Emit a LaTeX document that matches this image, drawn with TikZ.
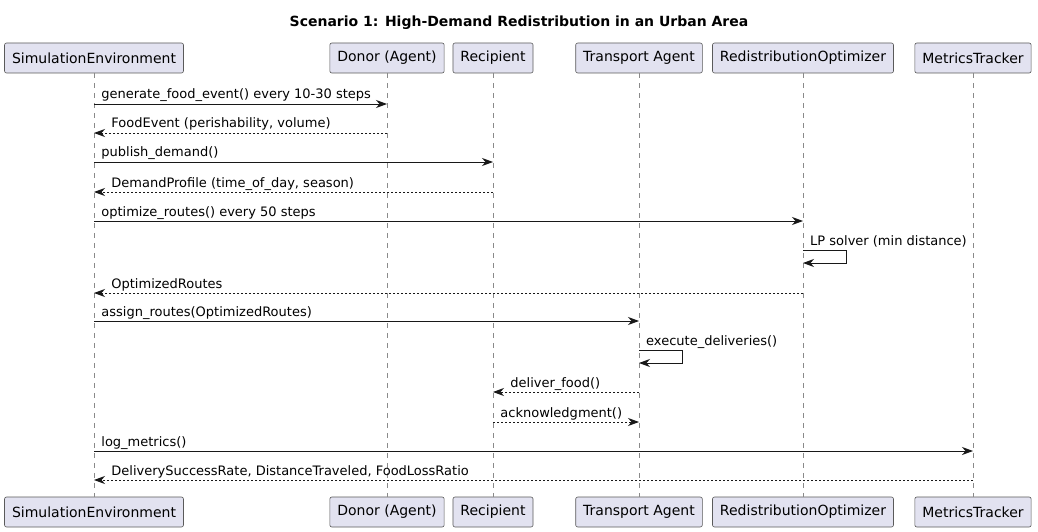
\documentclass[tikz,border=0pt]{standalone}
\usepackage{fontspec}
\setmainfont{DejaVu Sans}
\usetikzlibrary{arrows.meta, positioning, calc}
\definecolor{cbox}{HTML}{E2E2F0}
\definecolor{cline}{HTML}{181818}
\definecolor{cedge}{HTML}{5A5A5A}
\definecolor{cgrey}{HTML}{8A8A8A}
\tikzset{
  every picture/.style={x=1pt, y=-1pt, font=\fontsize{14}{16}\selectfont},
  actor/.style={draw=cedge, fill=cbox, rounded corners=2pt, minimum height=30pt, inner xsep=7.5pt, line width=0.6pt},
  life/.style={draw=cgrey, dash pattern=on 5pt off 5pt, line width=0.6pt},
  msg/.style={-{Stealth[length=11pt, width=8pt, inset=3.5pt]}, draw=cline, line width=0.8pt},
  reply/.style={msg, dash pattern=on 2pt off 2pt},
  lbl/.style={inner sep=0pt, anchor=base west, yshift=5pt, font=\fontsize{13}{15}\selectfont},
  title/.style={font=\fontsize{14}{16}\selectfont\bfseries},
}

\begin{document}
\begin{tikzpicture}
  \fill[white] (0,0) rectangle (1038,532);
  \useasboundingbox (0,0) rectangle (1038,532);
  \node[title] (title) at (519,23) {Scenario 1: High-Demand Redistribution in an Urban Area};
  % participants, top and bottom, with lifelines
  \foreach \n/\x/\t in {sim/94/SimulationEnvironment, donor/387/Donor (Agent), rec/493/Recipient,
      trans/639/Transport Agent, opt/803/RedistributionOptimizer, met/973/MetricsTracker} {
    \node[actor] (\n-top) at (\x,58) {\t};
    \node[actor] (\n-bot) at (\x,512) {\t};
    \draw[life] (\n-top) -- (\n-bot);
  }
  % calls, left to right
  \foreach \a/\b/\y/\t [count=\i] in {sim/donor/104/generate\_food\_event() every 10-30 steps,
      sim/rec/162/publish\_demand(), sim/opt/221/optimize\_routes() every 50 steps,
      sim/trans/321/assign\_routes(OptimizedRoutes), sim/met/451/log\_metrics()} {
    \draw[msg] (\a-top |- 0,\y) -- (\b-top |- 0,\y) node[lbl, pos=0, xshift=7pt] (c\i) {\t};
  }
  % replies, right to left
  \foreach \a/\b/\y/\t [count=\i] in {donor/sim/133/{FoodEvent (perishability, volume)},
      rec/sim/192/{DemandProfile (time\_of\_day, season)}, opt/sim/293/OptimizedRoutes,
      trans/rec/392/deliver\_food(), met/sim/480/{DeliverySuccessRate, DistanceTraveled, FoodLossRatio}} {
    \draw[reply] (\a-top |- 0,\y) -- (\b-top |- 0,\y) node[lbl, pos=1, xshift=17pt] (r\i) {\t};
  }
  \draw[reply] (rec-top |- 0,422) -- (trans-top |- 0,422) node[lbl, pos=0, xshift=7pt] (ack) {acknowledgment()};
  % self messages
  \draw[msg] (opt-top |- 0,250) -- ++(43,0) -- ++(0,13) -- (opt-top |- 0,263);
  \node[lbl] (lp) at ([xshift=7pt]opt-top |- 0,250) {LP solver (min distance)};
  \draw[msg] (trans-top |- 0,350) -- ++(43,0) -- ++(0,13) -- (trans-top |- 0,363);
  \node[lbl] (exe) at ([xshift=7pt]trans-top |- 0,350) {execute\_deliveries()};
\end{tikzpicture}
\end{document}
